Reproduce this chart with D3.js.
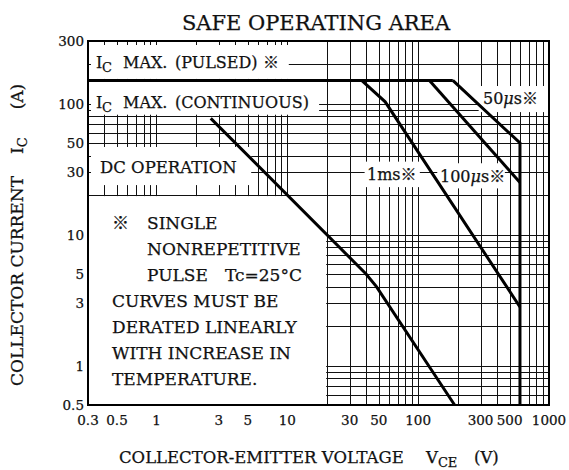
<!DOCTYPE html>
<html><head><meta charset="utf-8">
<script src="https://cdn.jsdelivr.net/npm/d3@7"></script>
<style>
body{margin:0;background:#fff}
svg{display:block}
text{font-family:"DejaVu Serif","Noto Sans CJK JP",serif;fill:#111;stroke:#111;stroke-width:0.25px}
</style>
</head><body>
<svg id="chart" width="569" height="470"></svg>
<script>
// ---- data ----
const xTickValues = [0.3, 0.5, 1, 3, 5, 10, 30, 50, 100, 300, 500, 1000];
const xTickLabels = ["0.3", "0.5", "1", "3", "5", "10", "30", "50", "100", "300", "500", "1000"];
const yTickValues = [0.5, 1, 3, 5, 10, 30, 50, 100, 300];
const yTickLabels = ["0.5", "1", "3", "5", "10", "30", "50", "100", "300"];

// VCE (V), IC (A)
const pulsedLimit = [[0.3, 150], [184, 150]];
const pulse50us  = [[184, 150], [600, 50], [600, 0.5]];
const pulse100us = [[122, 150], [600, 25]];
const pulse1ms   = [[37, 150], [56, 103], [600, 2.8]];
const dcOperation = [[2.6, 77], [40, 5], [48, 4], [190, 0.5]];

const noteLines = ["CURVES MUST BE", "DERATED LINEARLY", "WITH INCREASE IN", "TEMPERATURE."];

// ---- chart ----
const svg = d3.select("#chart");
const x = d3.scaleLog().domain([0.3, 1000]).range([88, 549]);
const y = d3.scaleLog().domain([0.5, 300]).range([405, 41]);
const X0 = x(0.3), X1 = x(1000), Y0 = y(300), Y1 = y(0.5);

svg.append("rect").attr("width", 569).attr("height", 470).attr("fill", "#fff");

// grid
const gx = x.ticks().filter(v => v > 0.3 && v < 1000);
const gy = y.ticks().filter(v => v > 0.5 && v < 300);
const grid = svg.append("g").attr("stroke", "#111").attr("stroke-width", 1).attr("shape-rendering", "crispEdges");
grid.selectAll("line.v").data(gx).join("line")
  .attr("x1", d => Math.round(x(d)) + 0.5).attr("x2", d => Math.round(x(d)) + 0.5)
  .attr("y1", Y0).attr("y2", Y1);
grid.selectAll("line.h").data(gy).join("line")
  .attr("y1", d => Math.round(y(d)) + 0.5).attr("y2", d => Math.round(y(d)) + 0.5)
  .attr("x1", X0).attr("x2", X1);

// white label areas masking the grid
const masks = [
  [X0 + 3, Y0 + 4, x(10) + 1.5, y(150) - 1.5],       // pulsed label
  [X0 + 3, y(150) + 1.5, x(17.5), y(80) - 1.5],      // continuous label
  [X0 + 3, y(50) + 4, x(5.3), y(20) - 10],           // DC label
  [X0, y(20) + 1, x(20) - 0.5, Y1],                  // note box
  [x(290), y(136), X1, y(86)],                       // 50us
  [x(39), y(36), x(103), y(23)],                     // 1ms
  [x(140), y(35), x(460), y(22.5)]                   // 100us
];
svg.append("g").selectAll("rect").data(masks).join("rect")
  .attr("x", d => d[0]).attr("y", d => d[1])
  .attr("width", d => d[2] - d[0]).attr("height", d => d[3] - d[1])
  .attr("fill", "#fff");

// curves
const line = d3.line().x(d => x(d[0])).y(d => y(d[1]));
const curves = svg.append("g").attr("fill", "none").attr("stroke", "#000")
  .attr("stroke-width", 3).attr("stroke-linejoin", "miter");
[pulsedLimit, pulse50us, pulse100us, pulse1ms, dcOperation].forEach(s => {
  curves.append("path").attr("d", line(s));
});

// frame
svg.append("rect").attr("x", X0).attr("y", Y0).attr("width", X1 - X0).attr("height", Y1 - Y0)
  .attr("fill", "none").attr("stroke", "#000").attr("stroke-width", 2);

// tick labels
svg.append("g").selectAll("text").data(xTickValues).join("text")
  .attr("x", d => x(d)).attr("y", 425).attr("text-anchor", "middle")
  .attr("font-size", 13.5).text((d, i) => xTickLabels[i]);
svg.append("g").selectAll("text").data(yTickValues).join("text")
  .attr("x", 84).attr("y", d => y(d) + 5).attr("text-anchor", "end")
  .attr("font-size", 13.5).text((d, i) => yTickLabels[i]);

// title
svg.append("text").attr("x", 316).attr("y", 30).attr("text-anchor", "middle")
  .attr("font-size", 21).text("SAFE OPERATING AREA");

// axis titles
const xt = svg.append("text").attr("x", 119).attr("y", 463).attr("font-size", 16.5);
xt.append("tspan").text("COLLECTOR-EMITTER VOLTAGE");
xt.append("tspan").attr("x", 426).text("V");
xt.append("tspan").attr("dy", 4).attr("font-size", 13).text("CE");
xt.append("tspan").attr("x", 474).attr("dy", -4).text("(V)");

const yt = svg.append("text").attr("transform", "translate(23,386) rotate(-90)")
  .attr("text-anchor", "start").attr("font-size", 17);
yt.append("tspan").text("COLLECTOR CURRENT");
yt.append("tspan").attr("dx", 22).text("I");
yt.append("tspan").attr("dy", 4).attr("font-size", 13).text("C");
yt.append("tspan").attr("dx", 28).attr("dy", -4).text("(A)");

// in-plot labels
function icLabel(yb, rest) {
  const t = svg.append("text").attr("x", 96).attr("y", yb).attr("font-size", 16);
  t.append("tspan").text("I");
  t.append("tspan").attr("x", 102).attr("dy", 4).attr("font-size", 13).text("C");
  t.append("tspan").attr("x", 123).attr("dy", -4).text("MAX.");
  t.append("tspan").attr("x", 175).text(rest);
  return t;
}
icLabel(68, "(PULSED)").append("tspan").attr("x", 263).text("※");
icLabel(108, "(CONTINUOUS)");
svg.append("text").attr("x", 100).attr("y", 173).attr("font-size", 16.5).text("DC OPERATION");

function pulseLabel(px, pyb, num, mu) {
  const t = svg.append("text").attr("x", px).attr("y", pyb).attr("font-size", 16);
  t.append("tspan").text(num);
  if (mu) t.append("tspan").attr("font-style", "italic").text("μ");
  t.append("tspan").text("s");
  t.append("tspan").text("※");
}
pulseLabel(483, 104, "50", true);
pulseLabel(367, 180, "1m", false);
pulseLabel(440, 182, "100", true);

// note
const nf = 17;
svg.append("text").attr("x", 112).attr("y", 229).attr("font-size", nf).text("※");
svg.append("text").attr("x", 147).attr("y", 229).attr("font-size", nf).text("SINGLE");
svg.append("text").attr("x", 147).attr("y", 255).attr("font-size", nf).text("NONREPETITIVE");
svg.append("text").attr("x", 147).attr("y", 281).attr("font-size", nf).text("PULSE");
svg.append("text").attr("x", 225).attr("y", 281).attr("font-size", nf).text("Tc=25°C");
svg.append("g").selectAll("text").data(noteLines).join("text")
  .attr("x", 112).attr("y", (d, i) => 307 + i * 26).attr("font-size", nf).text(d => d);
</script>
</body></html>
